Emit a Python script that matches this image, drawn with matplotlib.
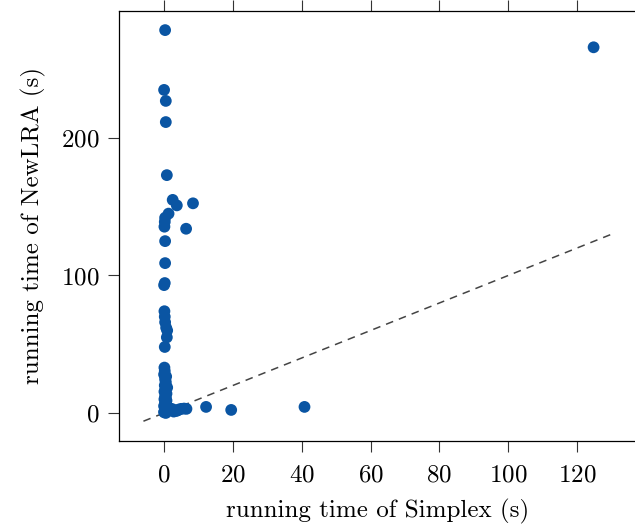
import matplotlib
matplotlib.use("Agg")
import matplotlib.pyplot as plt

plt.rcParams['font.family'] = 'serif'
plt.rcParams['font.serif'] = ['cmr10']
plt.rcParams['mathtext.fontset'] = 'cm'
plt.rcParams['axes.formatter.use_mathtext'] = True

# Data: running times (s)
simplex = [124.8, 0.3, 0.0, 0.5, 0.5, 0.8, 2.5, 3.7, 8.4, 1.3, 0.3, 0.2, 0.1, 6.4,
           0.3, 0.3, 0.2, 0.0, 0.1, 0.2, 0.3, 0.6, 0.9, 0.8, 0.2, 0.1,
           0.0, 0.3, 0.5, 0.2, 0.4, 0.7, 0.3, 0.1, 0.6, 0.2, 0.0, 0.4, 0.8, 1.2, 0.3, 0.0, 0.1, 0.5,
           0.2, 0.6, 0.4, 0.9, 0.1, 0.5, 0.3, 0.7,
           1.5, 2.2, 3.0, 3.6, 4.3, 5.0, 5.8, 6.5, 2.8, 4.0,
           12.2, 19.5, 40.8]
newlra = [266.0, 278.5, 235.0, 227.0, 211.6, 173.0, 155.0, 151.0, 152.5, 145.0, 142.0, 139.0, 135.5, 134.0,
          125.0, 109.0, 94.5, 93.0, 74.0, 70.0, 66.0, 62.0, 60.0, 55.0, 48.0, 33.0,
          28.0, 25.0, 22.0, 20.0, 17.0, 14.0, 12.0, 10.0, 8.0, 6.0, 5.0, 4.0, 3.0, 2.0, 1.5, 0.5, 1.0, 0.0,
          30.5, 26.5, 23.5, 18.5, 15.5, 11.0, 7.0, 9.0,
          2.5, 3.0, 2.0, 1.5, 2.5, 3.0, 3.2, 3.0, 1.0, 2.0,
          4.4, 2.2, 4.4]
diag = [-6, 130]

xticks = [0, 20, 40, 60, 80, 100, 120]
yticks = [0, 100, 200]

fig = plt.figure(figsize=(6.35, 5.27), dpi=100)
ax = fig.add_axes([119/635, 86/527, 1 - 119/635 + 0.002, (441 - 11)/527])

ax.plot(diag, diag, linestyle=(0, (5, 4)), color='#444444', linewidth=1.1, zorder=1)
ax.scatter(simplex, newlra, s=72, color='#0a55a3', edgecolors='none', zorder=3)

ax.set_xlim(-13.1, 137.2)
ax.set_ylim(-20.4, 292.4)
ax.set_xticks(xticks)
ax.set_yticks(yticks)
ax.tick_params(axis='x', which='both', direction='out', length=8, width=0.8,
               top=True, labeltop=False, labelsize=18, pad=8.5, color='#333333')
ax.tick_params(axis='y', direction='out', length=8, width=0.8, labelsize=18, pad=6, color='#333333')
ax.spines['right'].set_visible(False)
for s in ['left', 'bottom', 'top']:
    ax.spines[s].set_linewidth(0.9)
ax.set_xlabel('running time of Simplex (s)', fontsize=18, labelpad=9)
ax.set_ylabel('running time of NewLRA (s)', fontsize=18, labelpad=11)

fig.savefig('out.png', dpi=100)
